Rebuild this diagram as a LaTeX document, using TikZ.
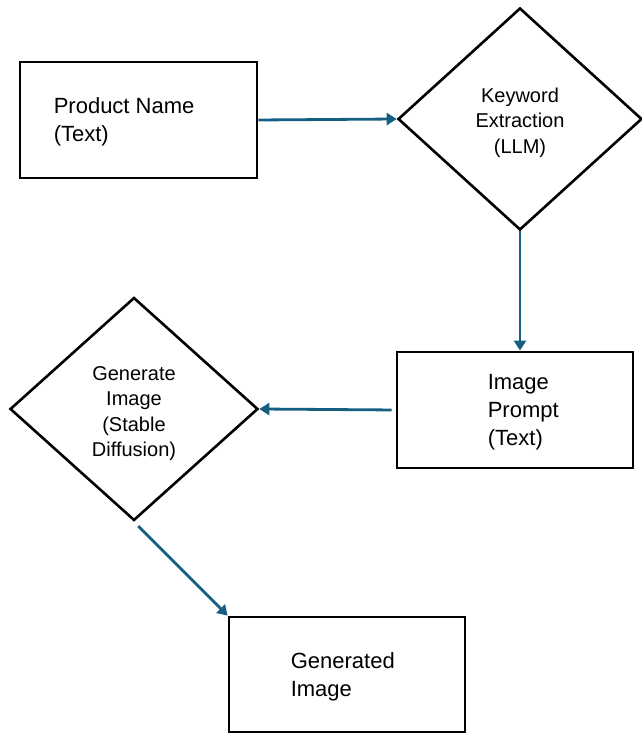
\documentclass[tikz,border=0pt]{standalone}
\usepackage{fontspec}
\setmainfont{Liberation Sans}
\usetikzlibrary{shapes.geometric,arrows.meta,calc}
\definecolor{flowblue}{HTML}{156082}

\begin{document}
\begin{tikzpicture}[x=1pt, y=1pt,
    block/.style={draw, rectangle, line width=2.8pt, minimum width=236pt, minimum height=116pt, inner sep=0pt},
    choice/.style={draw, diamond, line width=2.6pt, inner sep=0pt},
    choicetext/.style={align=center, inner sep=0pt, font=\fontsize{20}{25.5}\selectfont},
    blocktext/.style={anchor=west, align=left, inner sep=0pt, font=\fontsize{22}{28}\selectfont},
    flow/.style={draw=flowblue, line width=2.8pt, -{Triangle[length=10pt,width=12pt]}}]
    \useasboundingbox (0,0) rectangle (642,734);

    % input box, top left
    \node[block, minimum width=237pt] (pname) at (138.5,614) {};
    \node[blocktext] (pnametxt) at ($(pname.west)+(35,-2)$) {Product Name\\(Text)};

    % llm step, top right
    \node[choice, minimum width=244pt, minimum height=222pt] (kw) at (520,615) {};
    \node[choicetext] (kwtxt) at ($(kw)+(0,-3.5)$) {Keyword\\Extraction\\(LLM)};

    % prompt box
    \node[block] (prompt) at (515,324) {};
    \node[blocktext] (prompttxt) at ($(prompt.west)+(92,-2)$) {Image\\Prompt\\(Text)};

    % diffusion step
    \node[choice, minimum width=248pt, minimum height=223pt] (gen) at (134,325) {};
    \node[choicetext] (gentxt) at ($(gen)+(0,-4.5)$) {Generate\\Image\\(Stable\\Diffusion)};

    % output box
    \node[block, minimum height=115pt] (result) at (347,59.5) {};
    \node[blocktext] (resulttxt) at ($(result.west)+(63,-2)$) {Generated\\Image};

    % connectors
    \draw[flow] (pname.east) -- (kw.west);
    \draw[flow] (kw.south) -- (kw.south |- prompt.north);
    \draw[flow, shorten <=4pt] (prompt.west) -- (gen.east);
    \draw[flow, shorten <=6pt] (gen.south) -- (result.north west);
\end{tikzpicture}
\end{document}
